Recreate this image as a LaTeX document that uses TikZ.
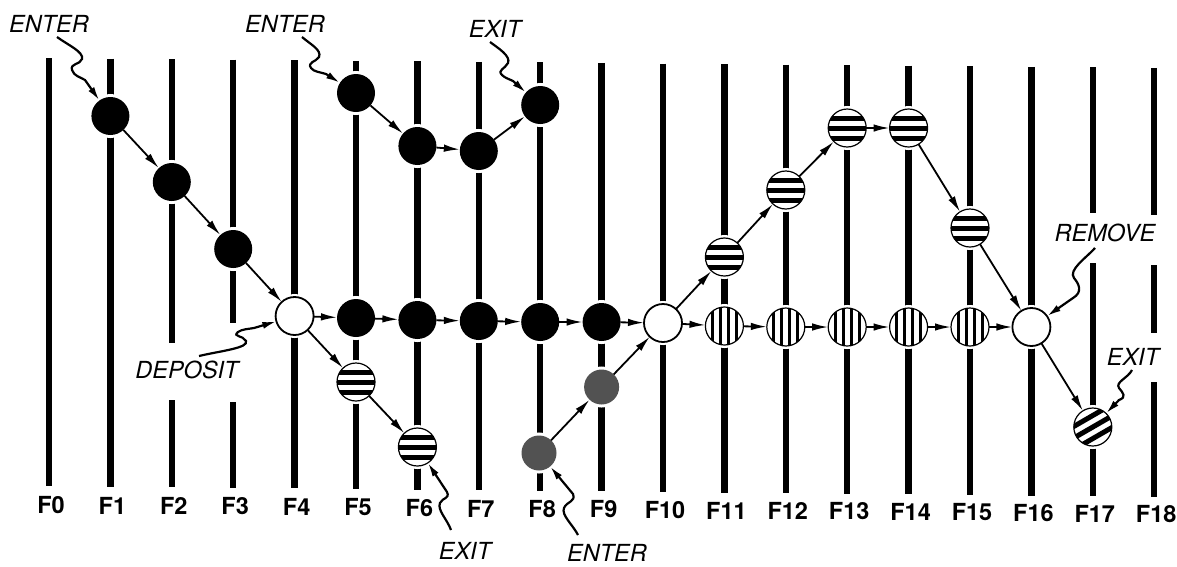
\documentclass[tikz,border=0pt]{standalone}
\usepackage{fontspec}
\setmainfont{TeX Gyre Heros}
\usetikzlibrary{arrows.meta}
\begin{document}
\begin{tikzpicture}[x=1pt,y=-1pt,
  fl/.style={line width=6.5pt, line cap=butt},
  nd/.style={circle, minimum size=38pt, inner sep=0pt, outer sep=0pt, preaction={draw=white,line width=6pt}},
  blk/.style={nd, fill=black},
  wht/.style={nd, fill=white, draw=black, line width=1.8pt},
  gry/.style={nd, minimum size=35pt, fill=black!68},
  hst/.style={nd, fill=white, draw=black, line width=1.2pt,
    path picture={\foreach \a/\b in {-12.5/-7.5,-2.5/2.5,7.5/12.5}{\fill[black] ([yshift=\a pt]path picture bounding box.west) rectangle ([yshift=\b pt]path picture bounding box.east);}}},
  vst/.style={nd, fill=white, draw=black, line width=1.2pt,
    path picture={\foreach \d in {-12,-4,4,12}{\draw[black,line width=3pt] ([xshift=\d pt]path picture bounding box.north) -- ([xshift=\d pt]path picture bounding box.south);}}},
  dst/.style={nd, fill=white, draw=black, line width=1.2pt,
    path picture={\foreach \p/\q in {-26.65/3.84/16.65/-21.16, -21.65/12.5/21.65/-12.5, -16.65/21.16/26.65/-3.84}{}%
      \draw[black,line width=5pt] ([shift={(-26.65,3.84)}]path picture bounding box.center) -- ([shift={(16.65,-21.16)}]path picture bounding box.center);
      \draw[black,line width=5pt] ([shift={(-21.65,12.5)}]path picture bounding box.center) -- ([shift={(21.65,-12.5)}]path picture bounding box.center);
      \draw[black,line width=5pt] ([shift={(-16.65,21.16)}]path picture bounding box.center) -- ([shift={(26.65,-3.84)}]path picture bounding box.center);}},
  ar/.style={-{Latex[length=16pt,width=7.5pt]}, line width=1.8pt},
  sq/.style={-{Latex[length=14pt,width=7pt]}, line width=2.2pt},
  lab/.style={font=\fontsize{23.5}{26}\selectfont\itshape, inner sep=0pt},
  flab/.style={font=\fontsize{23.5}{26}\selectfont\bfseries, inner sep=0pt}]
\useasboundingbox (0,0) rectangle (1177,566);
% vertical lines
\foreach \i in {0,1,4,5,6,7,8,9,10,11,12,13,14,15,16}{
  \pgfmathsetmacro\xx{49+61.4*\i}
  \pgfmathsetmacro\yt{58+0.55*\i}
  \pgfmathsetmacro\yb{486+0.6*\i}
  \draw[fl] (\xx,\yt) -- (\xx,\yb);
}
\draw[fl] (171.8,59.1) -- (171.8,343) (171.8,400) -- (171.8,487.2);
\draw[fl] (233.2,59.65) -- (233.2,323) (233.2,402) -- (233.2,487.8);
\draw[fl] (1092.8,67.35) -- (1092.8,213) (1092.8,263) -- (1092.8,496.2);
\draw[fl] (1154.2,67.9) -- (1154.2,215) (1154.2,265) -- (1154.2,333) (1154.2,382) -- (1154.2,496.8);
% line labels
\foreach \i in {0,...,18}{
  \pgfmathsetmacro\xx{51+61.4*\i}
  \pgfmathsetmacro\yy{505+0.5*\i}
  \node[flab] (l\i) at (\xx,\yy) {F\i};
}
% circles
\node[blk] (a1) at (110.4,116) {};
\node[blk] (a2) at (171.8,182) {};
\node[blk] (a3) at (233.2,249) {};
\node[wht] (w4) at (294.6,316) {};
\node[blk] (b5) at (356,93) {};
\node[blk] (b6) at (417.4,146) {};
\node[blk] (b7) at (478.8,151) {};
\node[blk] (b8) at (540.2,105) {};
\node[blk] (m5) at (356,318) {};
\node[blk] (m6) at (417.4,320) {};
\node[blk] (m7) at (478.8,321) {};
\node[blk] (m8) at (540.2,322) {};
\node[blk] (m9) at (601.6,322) {};
\node[wht] (w10) at (663,323) {};
\node[hst] (h5) at (356,382) {};
\node[hst] (h6) at (417.4,447) {};
\node[gry] (g8) at (539,453) {};
\node[gry] (g9) at (601.6,387) {};
\node[hst] (u11) at (724.4,257) {};
\node[hst] (u12) at (785.8,190) {};
\node[hst] (u13) at (847.2,128) {};
\node[hst] (u14) at (908.6,128) {};
\node[hst] (u15) at (970,228) {};
\node[vst] (v11) at (724.4,326) {};
\node[vst] (v12) at (785.8,327) {};
\node[vst] (v13) at (847.2,327) {};
\node[vst] (v14) at (908.6,327) {};
\node[vst] (v15) at (970,327) {};
\node[wht] (w16) at (1031.4,327) {};
\node[dst] (d17) at (1092.8,427) {};
% connectors
\draw[ar] (a1) -- (a2);
\draw[ar] (a2) -- (a3);
\draw[ar] (a3) -- (w4);
\draw[ar] (w4) -- (m5);
\draw[ar] (m5) -- (m6);
\draw[ar] (m6) -- (m7);
\draw[ar] (m7) -- (m8);
\draw[ar] (m8) -- (m9);
\draw[ar] (m9) -- (w10);
\draw[ar] (b5) -- (b6);
\draw[ar] (b6) -- (b7);
\draw[ar] (b7) -- (b8);
\draw[ar] (w4) -- (h5);
\draw[ar] (h5) -- (h6);
\draw[ar] (g8) -- (g9);
\draw[ar] (g9) -- (w10);
\draw[ar] (w10) -- (u11);
\draw[ar] (u11) -- (u12);
\draw[ar] (u12) -- (u13);
\draw[ar] (u13) -- (u14);
\draw[ar] (u14) -- (u15);
\draw[ar] (u15) -- (w16);
\draw[ar] (w10) -- (v11);
\draw[ar] (v11) -- (v12);
\draw[ar] (v12) -- (v13);
\draw[ar] (v13) -- (v14);
\draw[ar] (v14) -- (v15);
\draw[ar] (v15) -- (w16);
\draw[ar] (w16) -- (d17);
% labels
\node[lab] (e1) at (49,23.5) {ENTER};
\node[lab] (e2) at (285,23.5) {ENTER};
\node[lab] (x1) at (495,29) {EXIT};
\node[lab] (dep) at (187,370) {DEPOSIT};
\node[lab] (x2) at (465,551) {EXIT};
\node[lab] (e3) at (607,553) {ENTER};
\node[lab] (rem) at (1105,233) {REMOVE};
\node[lab] (x3) at (1133,357) {EXIT};
% squiggle arrows
\coordinate (s1) at (57,37);
\coordinate (s2) at (302,37);
\coordinate (s3) at (490,42);
\coordinate (s4) at (199,356);
\coordinate (s5) at (451,530);
\coordinate (s6) at (578,535);
\coordinate (s7) at (1095,248);
\coordinate (s8) at (1132,370);
\draw[sq] (s1) .. controls (68,45) and (84,52) .. (82,59) .. controls (80,65) and (70,63) .. (72,70) .. controls (74,76) and (80,77) .. (85,80) -- (a1);
\draw[sq] (s2) .. controls (310,44) and (322,50) .. (319,57) .. controls (316,62) and (307,62) .. (311,68) .. controls (314,72) and (320,72) .. (326,74) -- (b5);
\draw[sq] (s3) .. controls (498,48) and (511,56) .. (508,63) .. controls (505,69) and (497,70) .. (502,75) .. controls (505,78) and (509,79) .. (513,81) -- (b8);
\draw[sq] (s4) .. controls (220,351) and (249,348) .. (246,341) .. controls (243,335) and (232,337) .. (238,332) .. controls (242,329) and (249,329) .. (254,328) -- (w4);
\draw[sq] (s5) .. controls (447,519) and (437,510) .. (440,503) .. controls (443,497) and (450,499) .. (447,492) -- (h6);
\draw[sq] (s6) .. controls (573,525) and (561,515) .. (564,508) .. controls (567,501) and (576,502) .. (573,494) -- (g8);
\draw[sq] (s7) .. controls (1086,258) and (1068,270) .. (1074,278) .. controls (1079,284) and (1083,292) .. (1073,298) -- (w16);
\draw[sq] (s8) .. controls (1128,378) and (1115,382) .. (1119,388) .. controls (1123,393) and (1127,397) .. (1119,400) -- (d17);
\end{tikzpicture}
\end{document}
